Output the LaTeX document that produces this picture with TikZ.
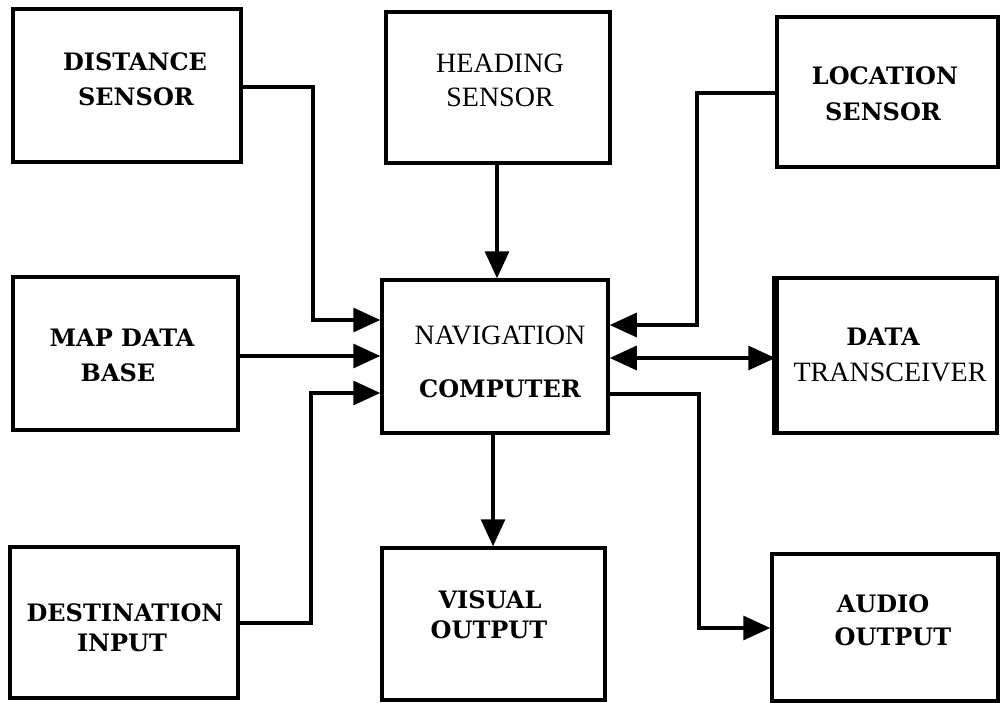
\documentclass[tikz,border=0pt]{standalone}
\usepackage{fontspec}
\newfontfamily\slab{DejaVu Serif}
\newfontfamily\tms{Liberation Serif}
\usetikzlibrary{arrows.meta}
\begin{document}
\begin{tikzpicture}[x=1pt,y=-1pt,
  box/.style={draw, line width=3.5pt, inner sep=0pt},
  bt/.style={font=\slab\bfseries\fontsize{24}{28}\selectfont, inner sep=0pt},
  rt/.style={font=\tms\fontsize{28}{32}\selectfont, inner sep=0pt},
  conn/.style={line width=3.2pt},
  tip/.tip={Triangle[length=27pt,width=24pt]},
  arr/.style={conn, -tip},
  biarr/.style={conn, tip-tip}]
\useasboundingbox (0,0) rectangle (1000,703);
% boxes
\node[box, minimum width=228pt, minimum height=153pt] (dist)  at (127,85.5) {};
\node[box, minimum width=224pt, minimum height=151pt] (head)  at (498,87.5) {};
\node[box, minimum width=221pt, minimum height=150pt] (loc)   at (887.5,92) {};
\node[box, minimum width=225pt, minimum height=153pt] (map)   at (125.5,353.5) {};
\node[box, minimum width=226pt, minimum height=153pt] (nav)   at (495,356.5) {};
\node[box, minimum width=220pt, minimum height=155pt] (trans) at (887,355.5) {};
\node[box, minimum width=228pt, minimum height=151pt] (dest)  at (124,622.5) {};
\node[box, minimum width=223pt, minimum height=152pt] (vis)   at (493.5,624) {};
\node[box, minimum width=226pt, minimum height=147pt] (audio) at (885,627.5) {};
\draw[line width=6pt] (trans.north west) -- (trans.south west);
% texts
\node[bt] (dist1) at (135,62) {DISTANCE};
\node[bt] (dist2) at (136,97) {SENSOR};
\node[rt] (head1) at (500,63) {HEADING};
\node[rt] (head2) at (500,97) {SENSOR};
\node[bt] (loc1) at (885,76) {LOCATION};
\node[bt] (loc2) at (883,112) {SENSOR};
\node[bt] (map1) at (122,338) {MAP DATA};
\node[bt] (map2) at (118,373) {BASE};
\node[rt] (nav1) at (500,335) {NAVIGATION};
\node[bt] (nav2) at (500,389) {COMPUTER};
\node[bt] (trans1) at (883,337) {DATA};
\node[rt] (trans2) at (890,372) {TRANSCEIVER};
\node[bt] (dest1) at (125,613) {DESTINATION};
\node[bt] (dest2) at (122,643) {INPUT};
\node[bt] (vis1) at (490,600) {VISUAL};
\node[bt] (vis2) at (489,630) {OUTPUT};
\node[bt] (aud1) at (883,604) {AUDIO};
\node[bt] (aud2) at (893,637) {OUTPUT};
% connectors
\draw[arr] (dist.east |- 0,87) -- (313,87) |- (nav.west |- 0,320);
\draw[arr] (head.south -| 497,0) -- (nav.north -| 497,0);
\draw[arr] (loc.west |- 0,93) -- (697,93) |- (nav.east |- 0,325);
\draw[arr] (map.east |- 0,356) -- (nav.west |- 0,356);
\draw[arr] (dest.east |- 0,623) -- (311,623) |- (nav.west |- 0,393);
\draw[biarr] (nav.east |- 0,358) -- (trans.west |- 0,358);
\draw[arr] (nav.south -| 493,0) -- (vis.north -| 493,0);
\draw[arr] (nav.east |- 0,394) -- (699,394) |- (audio.west |- 0,628);
\end{tikzpicture}
\end{document}
